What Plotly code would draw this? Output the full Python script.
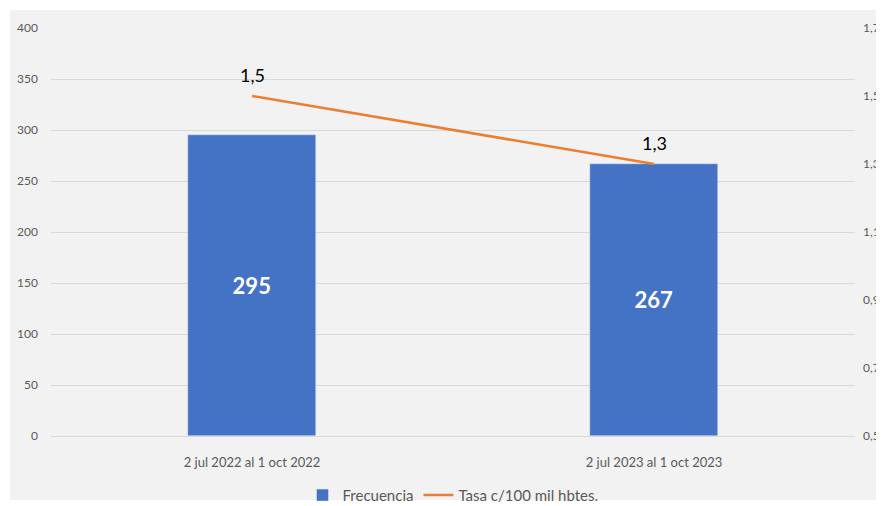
import plotly.graph_objects as go

periodos = ['2 jul 2022 al 1 oct 2022', '2 jul 2023 al 1 oct 2023']
frecuencia = [295, 267]
tasa = [1.5, 1.3]
tasa_txt = ['1,5', '1,3']

grey_txt = '#595959'

fig = go.Figure()
fig.add_trace(go.Bar(
    x=periodos, y=frecuencia, name='Frecuencia',
    marker_color='#4472C4', width=0.32,
    text=frecuencia, textposition='inside', insidetextanchor='middle',
    textfont=dict(color='white', size=22, family='Lato', weight='bold'),
))
fig.add_trace(go.Scatter(
    x=periodos, y=tasa, name='Tasa c/100 mil hbtes.', yaxis='y2',
    mode='lines', line=dict(color='#ED7D31', width=2.5),
))

# value labels above the line points
for p, v, t in zip(periodos, tasa, tasa_txt):
    fig.add_annotation(x=p, y=v, yref='y2', text=t, showarrow=False,
                       yshift=21, font=dict(color='black', size=18, family='Lato'))

# grey panel behind the whole chart
fig.add_shape(type='rect', xref='paper', yref='paper', layer='below',
              x0=-0.051, x1=1.05, y0=-0.157, y1=1.044,
              fillcolor='#f2f2f2', line_width=0)

# page body has an 8px margin, so the figure is a bit smaller than the window
fig.update_layout(
    width=876, height=498,
    margin=dict(l=43, r=29, t=20, b=70, autoexpand=False),
    paper_bgcolor='white', plot_bgcolor='#f2f2f2',
    separators=',.',
    font=dict(family='Lato', color=grey_txt, size=12),
    bargap=0,
    showlegend=True,
    legend=dict(orientation='h', x=0.5, xanchor='center', y=-0.105, yanchor='top',
                font=dict(size=15, color=grey_txt), bgcolor='rgba(0,0,0,0)',
                itemwidth=30, tracegroupgap=0),
    xaxis=dict(showgrid=False, ticks='', ticklabelstandoff=14,
               tickfont=dict(size=13, color=grey_txt),
               showline=True, linecolor='#d9d9d9'),
    yaxis=dict(range=[0, 400], dtick=50, gridcolor='#d9d9d9', zeroline=False,
               ticks='', ticklabelstandoff=12, tickfont=dict(size=12, color=grey_txt)),
    yaxis2=dict(range=[0.5, 1.7], dtick=0.2, tick0=0.5, tickformat='.1f',
                overlaying='y', side='right', showgrid=False, zeroline=False,
                ticks='', ticklabelstandoff=7, tickfont=dict(size=12, color=grey_txt)),
)

fig.write_html("out.html")
